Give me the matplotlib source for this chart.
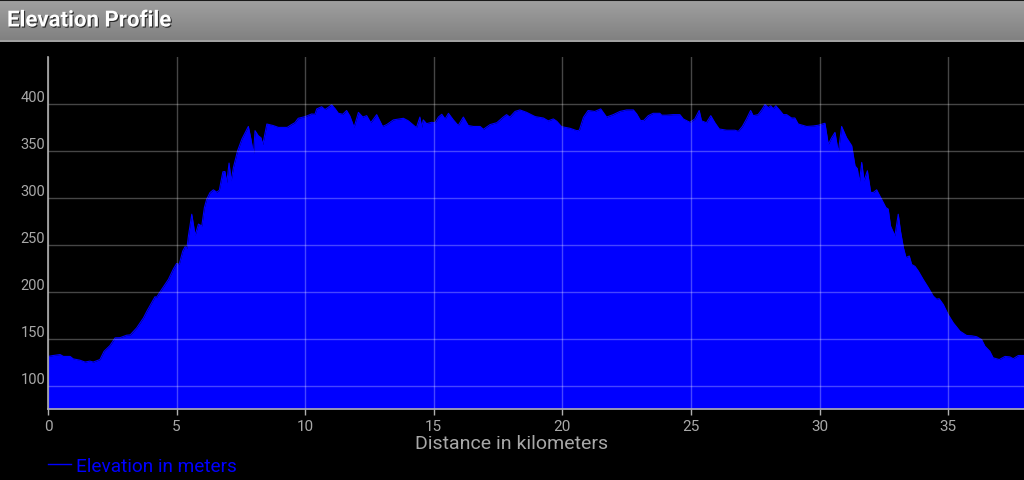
import numpy as np
import matplotlib
matplotlib.use("Agg")
import matplotlib.pyplot as plt
import matplotlib.patheffects as pe
from matplotlib.lines import Line2D

# ---- data ----
distance_km = [
    0.00, 0.21, 0.47, 0.60, 0.86, 0.98, 1.24, 1.44, 1.63, 1.76, 2.02, 2.18, 2.41, 2.61, 2.80,
    3.06, 3.20, 3.45, 3.71, 3.84, 4.16, 4.22, 4.42, 4.68, 4.88, 5.00, 5.10, 5.24, 5.33, 5.40,
    5.46, 5.59, 5.72, 5.85, 5.98, 6.08, 6.17, 6.30, 6.43, 6.56, 6.66, 6.80, 6.88, 6.95, 7.04,
    7.12, 7.21, 7.37, 7.54, 7.67, 7.79, 7.89, 7.99, 8.05, 8.18, 8.28, 8.35, 8.51, 8.75, 8.96,
    9.30, 9.47, 9.60, 9.73, 10.00, 10.25, 10.38, 10.45, 10.64, 10.77, 10.90, 11.03, 11.16,
    11.29, 11.46, 11.61, 11.74, 11.90, 12.07, 12.24, 12.39, 12.55, 12.78, 13.01, 13.17, 13.43,
    13.82, 14.01, 14.27, 14.33, 14.46, 14.53, 14.59, 14.72, 14.92, 15.05, 15.18, 15.31, 15.44,
    15.57, 15.76, 15.95, 16.15, 16.34, 16.54, 16.80, 16.93, 17.19, 17.45, 17.70, 17.83, 17.96,
    18.16, 18.35, 18.61, 18.94, 19.26, 19.45, 19.65, 19.78, 19.97, 20.30, 20.56, 20.66, 20.82,
    21.00, 21.26, 21.49, 21.72, 21.98, 22.24, 22.50, 22.76, 22.89, 23.04, 23.17, 23.34, 23.53,
    23.79, 23.86, 24.05, 24.31, 24.57, 24.70, 24.96, 25.15, 25.32, 25.41, 25.60, 25.77, 25.93,
    26.10, 26.39, 26.71, 26.84, 27.00, 27.16, 27.32, 27.42, 27.61, 27.75, 27.88, 28.01, 28.10,
    28.20, 28.30, 28.46, 28.59, 28.72, 28.91, 29.04, 29.17, 29.37, 29.50, 29.76, 29.95, 30.21,
    30.34, 30.47, 30.60, 30.73, 30.86, 31.05, 31.25, 31.38, 31.47, 31.55, 31.64, 31.73, 31.86,
    31.99, 32.09, 32.22, 32.41, 32.58, 32.67, 32.76, 32.93, 33.06, 33.15, 33.26, 33.36, 33.49,
    33.58, 33.71, 33.84, 34.03, 34.23, 34.42, 34.55, 34.65, 34.81, 35.00, 35.20, 35.46, 35.72,
    35.91, 36.11, 36.30, 36.43, 36.62, 36.75, 36.99, 37.21, 37.40, 37.53, 37.73, 37.95,
]
elevation_m = [
    131, 132, 133, 131, 131, 128.4, 127, 125, 126, 125, 127.7, 136.5, 142.6, 150.8, 151,
    153.6, 154, 161.5, 172, 179, 194.6, 194, 202.4, 213, 224.5, 230, 229, 243.3, 248, 246,
    259.4, 282.5, 260, 272, 270, 289.6, 298.5, 305.6, 308.5, 306, 308, 327.7, 328, 316, 337,
    318, 332.4, 350, 362.6, 369.7, 376, 362.6, 346.6, 371.5, 366, 364, 356.6, 378.6, 377, 375,
    375, 378, 380, 384.7, 386.5, 389.3, 389, 394.7, 397, 394, 396.4, 399, 395,
    390, 389, 393, 387, 375, 391, 386, 387.5, 380, 388.6, 376, 378, 383,
    384.7, 382, 376, 375, 386, 375, 383, 379, 380.4, 380, 386, 389, 384,
    390, 383, 377, 386, 377, 376, 376, 373, 378, 380, 386, 388.6, 386,
    392, 393.6, 391, 386.5, 385, 382, 384, 381.6, 375.8, 374, 371.5, 372, 385.8,
    393, 392, 394.7, 386, 388.6, 392, 393.6, 393.6, 389.3, 382.2, 382.5, 387.5, 390,
    390, 388, 388, 388.6, 388.6, 384, 380.4, 384, 393, 382, 380, 387.5, 380,
    373.3, 372, 372, 370.8, 376, 384, 393, 387.5, 388.6, 393.6, 399.3, 396, 398,
    395, 398, 393, 388.6, 388.6, 385, 385, 378.6, 377, 376, 376.5, 377.3, 379.4,
    357, 364, 369.7, 348.4, 376, 364, 355.5, 334, 331, 316.4, 337.7, 318, 328.8,
    305.7, 305.7, 308.5, 298.5, 289.6, 288, 270, 259.4, 282.5, 264, 247, 236.3, 238,
    229, 227, 222, 213, 204.3, 195.3, 192, 192.5, 186.4, 175.7, 166.8, 157.9, 153.3,
    153, 152, 149, 141.9, 136.5, 129.5, 127.7, 131, 130.5, 128.6, 132, 132,
]
x_ticks = [0, 5, 10, 15, 20, 25, 30, 35]
y_ticks = [100, 150, 200, 250, 300, 350, 400]
y_range = (75, 450)
title = "Elevation Profile"
x_label = "Distance in kilometers"
series_label = "Elevation in meters"

# ---- styling ----
W, H = 1024, 481
FONT = "Roboto"
LABEL_GRAY = "#a8a8a8"
BLUE = "#0000ff"

plt.rcParams["font.family"] = [FONT, "DejaVu Sans"]
fig = plt.figure(figsize=(W / 100, H / 100), dpi=100, facecolor="black")

# Title bar
bar = fig.add_axes([0, 1 - 43 / H, 1, 43 / H])
grad = np.linspace(0, 1, 64).reshape(-1, 1)
top_c = np.array([0.63, 0.63, 0.63])
bot_c = np.array([0.50, 0.50, 0.50])
img = top_c + (bot_c - top_c) * grad
img = np.repeat(img[:, None, :], 2, axis=1).reshape(64, 2, 3)
bar.imshow(img, aspect="auto", extent=[0, 1, 0, 1], origin="upper")
bar.axhline(1.0, color="#1a1a1a", lw=2.2)
bar.axhline(0.02, color="#a8a8a8", lw=1.2)
bar.set_xlim(0, 1)
bar.set_ylim(0, 1)
bar.axis("off")
bar.text(7 / W, 0.5, title, color="white", fontsize=16, fontweight="bold",
         va="center", ha="left", transform=bar.transAxes,
         path_effects=[pe.withSimplePatchShadow(offset=(0.8, -0.8), shadow_rgbFace="black", alpha=0.7)])

# Main axes
left, right = 48 / W, 1.0
bottom, top = 1 - 410 / H, 1 - 58 / H
ax = fig.add_axes([left, bottom, right - left, top - bottom])
ax.set_facecolor("black")
ax.fill_between(distance_km, elevation_m, y_range[0], color=BLUE, lw=0, zorder=1)
ax.plot(distance_km, elevation_m, color=BLUE, lw=0.8, zorder=1.5)

ax.set_xlim(0, max(distance_km))
ax.set_ylim(*y_range)
ax.set_xticks(x_ticks)
ax.set_yticks(y_ticks)
ax.set_xticklabels([str(t) for t in x_ticks])
ax.set_yticklabels([str(t) for t in y_ticks])

ax.set_axisbelow(False)
ax.grid(True, color="white", alpha=0.28, lw=1.0)

for s in ("top", "right"):
    ax.spines[s].set_visible(False)
for s in ("left", "bottom"):
    ax.spines[s].set_color("#b0b0b0")
    ax.spines[s].set_linewidth(1.2)
    ax.spines[s].set_zorder(3)

ax.tick_params(axis="x", colors="#b0b0b0", labelcolor=LABEL_GRAY, length=4, width=1,
               labelsize=11, pad=3)
ax.tick_params(axis="y", length=0, labelcolor=LABEL_GRAY, labelsize=10.5, pad=2)
for lbl in ax.get_yticklabels():
    lbl.set_verticalalignment("bottom")

ax.set_xlabel(x_label, color=LABEL_GRAY, fontsize=14)
ax.xaxis.set_label_coords((512 / W - left) / (right - left), -(444 - 410) / (410 - 58))
ax.xaxis.label.set_verticalalignment("center")

# Legend
handle = Line2D([], [], color=BLUE, lw=1.0)
fig.legend([handle], [series_label], loc="center left",
           bbox_to_anchor=(48 / W, 1 - 467 / H), frameon=False, labelcolor=BLUE,
           fontsize=13.7, handlelength=1.2, handletextpad=0.25, borderpad=0, borderaxespad=0)

fig.savefig("out.png", dpi=100, facecolor="black")
